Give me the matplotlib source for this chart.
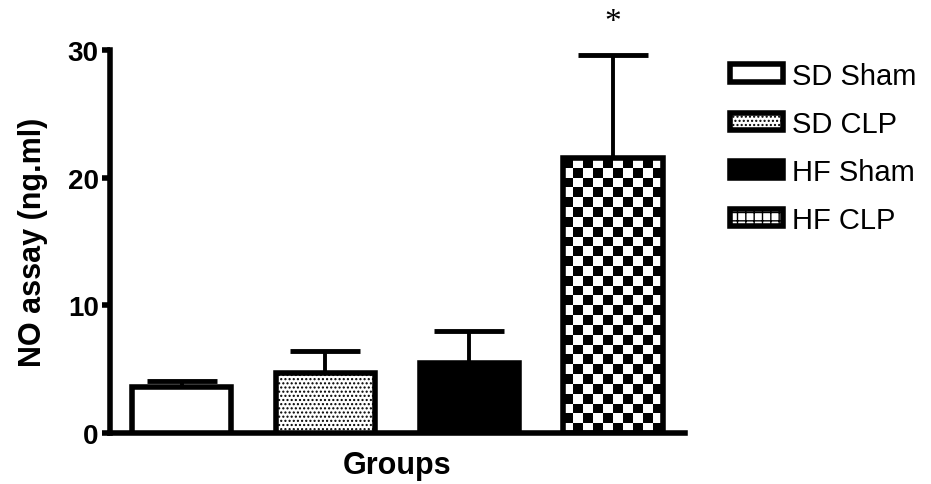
import numpy as np
import matplotlib
matplotlib.use("Agg")
import matplotlib.pyplot as plt
from matplotlib.patches import Patch

# data
groups = ["SD Sham", "SD CLP", "HF Sham", "HF CLP"]
means = [3.6, 4.7, 5.5, 21.5]
sem = [0.5, 1.7, 2.5, 8.1]
yticks = [0, 10, 20, 30]

plt.rcParams["font.family"] = ["Liberation Sans", "DejaVu Sans"]
plt.rcParams["hatch.color"] = "#555555"

fig = plt.figure(figsize=(9.31, 4.85), dpi=100)
ax = fig.add_axes([0.118, 0.105, 0.6176, 0.79])

x = np.arange(len(groups))
width = 0.69
faces = ["white", "white", "black", "white"]
hatches = [None, "....", None, None]
bars = []
for i in range(len(groups)):
    b = ax.bar(x[i], means[i], width, color=faces[i], edgecolor="black",
               linewidth=4, hatch=hatches[i], zorder=3)
    bars.append(b[0])
    ax.errorbar(x[i], means[i], yerr=[[0], [sem[i]]], fmt="none",
                ecolor="black", elinewidth=2.8, capsize=25, capthick=3.5,
                zorder=2)

# checkerboard fill for HF CLP, clipped to the bar
b = bars[3]
nx, ny = 10, 28
checker = (np.add.outer(np.arange(ny), np.arange(nx)) % 2).astype(float)
im = ax.imshow(checker, cmap="gray", interpolation="nearest", aspect="auto",
               extent=(b.get_x(), b.get_x() + b.get_width(), 0, b.get_height()),
               zorder=2.5)
im.set_clip_path(b)
b.set_facecolor("none")

ax.text(x[3], 32.2, "*", ha="center", va="center", fontsize=24,
        family="Liberation Serif", clip_on=False)

ax.set_xlim(-0.5, 3.5)
ax.set_ylim(0, 30)
ax.set_yticks(yticks)
ax.set_xticks([])
for s in ["top", "right"]:
    ax.spines[s].set_visible(False)
for s in ["left", "bottom"]:
    ax.spines[s].set_linewidth(4)
ax.tick_params(axis="y", length=6, width=4, labelsize=20, pad=2)
for t in ax.get_yticklabels():
    t.set_fontweight("bold")
ax.set_ylabel("NO assay (ng.ml)", fontsize=22, fontweight="bold", labelpad=14)
ax.set_xlabel("Groups", fontsize=22, fontweight="bold", labelpad=12)

handles = [
    Patch(facecolor="white", edgecolor="black", linewidth=4),
    Patch(facecolor="white", edgecolor="black", linewidth=4, hatch="...."),
    Patch(facecolor="black", edgecolor="black", linewidth=4),
    Patch(facecolor="white", edgecolor="black", linewidth=4, hatch="++"),
]
fig.legend(handles, groups, loc="upper left", bbox_to_anchor=(0.772, 0.895),
           frameon=False, fontsize=21, handlelength=1.8, handleheight=0.55,
           labelspacing=0.69, handletextpad=0.3, borderaxespad=0)

fig.savefig("out.png", dpi=100)
